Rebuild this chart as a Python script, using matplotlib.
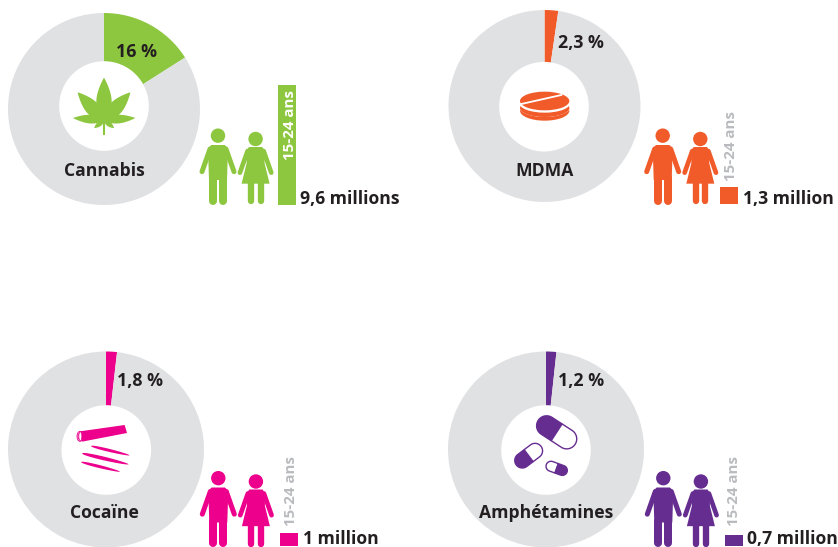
import numpy as np
import matplotlib
matplotlib.use("Agg")
import matplotlib.pyplot as plt
from matplotlib.patches import Circle, Ellipse, Polygon

# ---- data ----
drugs = ["Cannabis", "MDMA", "Cocaïne", "Amphétamines"]
share_labels = ["16 %", "2,3 %", "1,8 %", "1,2 %"]
share_drawn = [16.0, 2.3, 1.8, 1.7]
youth_labels = ["9,6 millions", "1,3 million", "1 million", "0,7 million"]
youth_drawn = [9.6, 1.35, 1.05, 0.88]
age_label = "15-24 ans"

colors = ["#8DC63F", "#F15A29", "#EC008C", "#662D91"]
GREY = "#E0E1E3"
INK = "#231F20"
AGE_GREY = "#B9BBBE"

# ---- layout (pixels, y downwards) ----
centers = [(104, 109), (544.5, 106), (106, 449.5), (546, 449.5)]
radii = [96, 96, 98, 98]
holes = [(104, 106), (544, 106.7), (106.3, 450), (546, 450)]
HOLE_R = 44.8
name_xy = [(104.7, 171.5), (544.3, 171.5), (104.7, 512.5), (546.3, 512.5)]
pct_xy = [(136, 52), (558, 42.5), (117, 381.5), (557.7, 381.5)]
pct_ha = ["center", "left", "left", "left"]
bar_x = [278, 720, 280, 725]
bar_base = [205, 204, 546, 546]
value_xy = [(300, 199.5), (742.5, 198.5), (302.5, 539), (746.5, 539)]
age_xy = [(289.5, 125), (730.5, 146), (290.5, 490.5), (734, 490.5)]
age_col = ["white", AGE_GREY, AGE_GREY, AGE_GREY]
man_xy = [(218, 204), (662.7, 204), (218.3, 546.5), (663.3, 546.5)]
PX_PER_MILLION = 12.5
BAR_W = 18

plt.rcParams["font.family"] = ["Open Sans", "DejaVu Sans"]
fig = plt.figure(figsize=(8.38, 5.47), dpi=100)
ax = fig.add_axes([0, 0, 1, 1])


def lens(p0, p1, w, color, z=5, power=0.8):
    p0, p1 = np.array(p0, float), np.array(p1, float)
    t = np.linspace(0, 1, 40)
    d = p1 - p0
    n = np.array([-d[1], d[0]]) / np.hypot(*d)
    prof = (w / 2) * np.sin(np.pi * t ** 0.8) ** power
    a = p0 + np.outer(t, d) + np.outer(prof, n)
    b = p0 + np.outer(t, d) - np.outer(prof, n)
    ax.add_patch(Polygon(np.vstack([a, b[::-1]]), fc=color, ec="none", zorder=z))


def thick(p0, p1, w, color, z=5):
    ax.plot([p0[0], p1[0]], [p0[1], p1[1]], color=color, lw=w * 0.72,
            solid_capstyle="round", zorder=z)


def man(cx, base, c):
    def P(x, y):
        return (cx + x / 3, base + (y - 612) / 3)
    ax.add_patch(Circle(P(0, 407), 7.2, fc=c, ec="none", zorder=5))
    ax.add_patch(Polygon([P(-20, 435), P(20, 435), P(30, 445), P(27, 540), P(-27, 540), P(-30, 445)],
                         fc=c, ec="none", zorder=5))
    thick(P(-24, 447), P(-48, 515), 15 / 3, c)
    thick(P(24, 447), P(48, 515), 15 / 3, c)
    thick(P(-15, 535), P(-15, 602), 24 / 3, c)
    thick(P(15, 535), P(15, 602), 24 / 3, c)


def woman(cx, base, c):
    def P(x, y):
        return (cx + x / 3, base + (y - 612) / 3)
    ax.add_patch(Circle(P(0, 417), 7.2, fc=c, ec="none", zorder=5))
    ax.add_patch(Polygon([P(-20, 441), P(20, 441), P(27, 452), P(27, 490), P(42, 551), P(-42, 551), P(-27, 490), P(-27, 452)],
                         fc=c, ec="none", zorder=5))
    thick(P(-24, 453), P(-47, 518), 14 / 3, c)
    thick(P(24, 453), P(47, 518), 14 / 3, c)
    thick(P(-14, 548), P(-14, 604), 19 / 3, c)
    thick(P(15, 548), P(15, 604), 19 / 3, c)


def cannabis_icon(c):
    def P(x, y):
        return (x / 3, y / 3)
    b = P(312, 358)
    lens(b, P(312, 233), 46 / 3, c, power=0.9)
    lens(P(310, 360), P(233, 277), 42 / 3, c, power=0.9)
    lens(P(314, 360), P(391, 277), 42 / 3, c, power=0.9)
    lens(P(310, 360), P(219, 354), 26 / 3, c, power=0.9)
    lens(P(314, 360), P(406, 354), 26 / 3, c, power=0.9)
    lens(P(310, 362), P(283, 384), 15 / 3, c)
    lens(P(314, 362), P(342, 384), 15 / 3, c)
    ax.plot([b[0], b[0]], [b[1], 402 / 3], color=c, lw=1.5, zorder=5)


def pill_icon(c):
    def P(x, y):
        return (430 + x / 3, y / 3)
    ax.add_patch(Ellipse(P(344, 332), 148 / 3, 60 / 3, fc=c, ec="none", zorder=5))
    ax.add_patch(Ellipse(P(344, 322), 152 / 3, 58 / 3, fc="white", ec="none", zorder=5))
    ax.add_patch(Ellipse(P(344, 324), 148 / 3, 54 / 3, fc=c, ec="none", zorder=5))
    ax.add_patch(Ellipse(P(344, 310), 152 / 3, 56 / 3, fc="white", ec="none", zorder=5))
    ax.add_patch(Ellipse(P(344, 303), 148 / 3, 56 / 3, fc=c, ec="none", zorder=5))
    ax.plot(*zip(P(274, 312), P(394, 285)), color="white", lw=1.3, zorder=6)


def cocaine_icon(c):
    def P(x, y):
        return (x / 3, 340 + y / 3)
    ax.add_patch(Polygon([P(240, 274), P(374, 255), P(381, 279), P(246, 305)], fc=c, ec="none", zorder=5))
    for w in (30, 20, 10):
        ax.add_patch(Ellipse(P(240, 289), w / 3 * 0.6, w / 3, fc="none", ec=c, lw=0.6, zorder=6))
    ax.add_patch(Ellipse(P(241, 289), 3, 9, fc="white", ec=c, lw=0.5, zorder=6))
    lens(P(273, 318), P(389, 346), 9 / 3, c, power=0.5)
    lens(P(246, 340), P(386, 373), 11 / 3, c, power=0.5)
    lens(P(243, 366), P(360, 395), 9 / 3, c, power=0.5)


def capsule(cx, cy, L, W, deg, dark_first, c):
    r = W / 2
    h = L / 2 - r
    th = np.linspace(-np.pi / 2, np.pi / 2, 30)
    right = np.column_stack([h + r * np.cos(th), r * np.sin(th)])
    left = -right
    a = np.radians(deg)
    R = np.array([[np.cos(a), -np.sin(a)], [np.sin(a), np.cos(a)]])
    def T(pts):
        return (pts @ R.T) + [cx, cy]
    half_r = np.vstack([[[0, -r]], right, [[0, r]]])
    half_l = np.vstack([[[0, r]], left, [[0, -r]]])
    ax.add_patch(Polygon(T(half_l), fc=c if dark_first else "white", ec=c, lw=1.0, zorder=5))
    ax.add_patch(Polygon(T(half_r), fc="white" if dark_first else c, ec=c, lw=1.0, zorder=5))


def amph_icon(c):
    def P(x, y):
        return (430 + x / 3, 340 + y / 3)
    x, y = P(380, 277)
    capsule(x, y, 44, 20, 33, True, c)
    x, y = P(296, 347)
    capsule(x, y, 31, 15, -37, True, c)
    x, y = P(380, 385)
    capsule(x, y, 22, 10, 20, False, c)


# ---- marks ----
for i, name in enumerate(drugs):
    c = colors[i]
    ax.pie([share_drawn[i], 100 - share_drawn[i]], colors=[c, GREY], center=centers[i], radius=radii[i],
           startangle=-90, counterclock=True, wedgeprops=dict(linewidth=0))
    ax.add_patch(Circle(holes[i], HOLE_R, fc="white", ec="none", zorder=4))
    ax.bar(bar_x[i], -youth_drawn[i] * PX_PER_MILLION, width=BAR_W, bottom=bar_base[i],
           align="edge", color=c, linewidth=0, zorder=3)
    man(man_xy[i][0], man_xy[i][1], c)
    woman(man_xy[i][0] + 37.6, man_xy[i][1], c)
    ax.text(*name_xy[i], name, ha="center", va="center", fontsize=12.6, fontweight="bold", color=INK, zorder=7)
    ax.text(*pct_xy[i], share_labels[i], ha=pct_ha[i], va="center", fontsize=12.8, fontweight="bold", color=INK, zorder=7)
    ax.text(*value_xy[i], youth_labels[i], ha="left", va="center", fontsize=12.6, fontweight="bold", color=INK, zorder=7)
    ax.text(*age_xy[i], age_label, rotation=90, ha="center", va="center", fontsize=10.9,
            fontweight="bold", color=age_col[i], zorder=7)

cannabis_icon(colors[0])
pill_icon(colors[1])
cocaine_icon(colors[2])
amph_icon(colors[3])

ax.set_aspect("auto")
ax.set_xlim(0, 838)
ax.set_ylim(547, 0)
ax.axis("off")
fig.savefig("out.png", dpi=100, facecolor="white")
